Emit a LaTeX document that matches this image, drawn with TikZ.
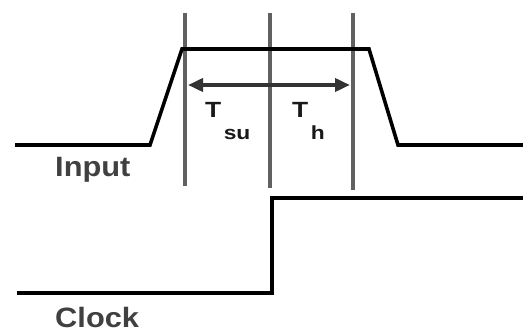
\documentclass[tikz,border=0pt]{standalone}
\usepackage{fontspec}
\setmainfont{Liberation Sans}
\usetikzlibrary{arrows.meta, positioning}

\newcommand{\subtxt}[1]{\kern2pt\raisebox{-22pt}{\fontsize{19}{20}\selectfont #1}}

\begin{document}
\begin{tikzpicture}[
    x=1pt, y=-1pt,
    % signal traces and timing markers
    signal/.style={line width=3.6pt, color=black, line join=miter},
    marker/.style={line width=3.2pt, color=black!62},
    span/.style={{Triangle[length=15pt, width=13pt]}-{Triangle[length=15pt, width=13pt]}, line width=3.6pt, color=black!80},
    siglabel/.style={font=\bfseries\fontsize{28}{30}\selectfont, xscale=1.1, inner sep=0pt, color=black!75},
    timelabel/.style={font=\bfseries\fontsize{22}{24}\selectfont, xscale=1.2, inner sep=0pt, color=black!90}
]

\useasboundingbox (0,0) rectangle (523,336);

% =========================================================
% MARKERS: setup edge, clock edge, hold edge
% =========================================================
\coordinate (su_top) at (185,13);  \coordinate (su_bot) at (185,186);
\coordinate (ck_top) at (270,13);  \coordinate (ck_bot) at (270,188);
\coordinate (h_top)  at (353,13);  \coordinate (h_bot)  at (353,190);

\draw[marker] (su_top) -- (su_bot);
\draw[marker] (ck_top) -- (ck_bot);
\draw[marker] (h_top) -- (h_bot);

% =========================================================
% INPUT SIGNAL
% =========================================================
\draw[signal] (15,145) -- (150,145) -- (182,49) -- (369,49) -- (398,145) -- (523,145);
\node[siglabel, anchor=base west] (input) at (55,177) {Input};

% setup / hold span
\coordinate (span_l) at (188,85);
\coordinate (span_r) at (350,85);
\draw[span] (span_l) -- (span_r);

\node[timelabel, anchor=base west] (tsu) at (205,118) {T\subtxt{su}};
\node[timelabel, anchor=base west] (th) at (292,118) {T\subtxt{h}};

% =========================================================
% CLOCK SIGNAL
% =========================================================
\draw[signal] (17,293) -- (272,293) -- (272,198) -- (523,198);
\node[siglabel, anchor=base west] (clock) at (55,328) {Clock};

\end{tikzpicture}
\end{document}
